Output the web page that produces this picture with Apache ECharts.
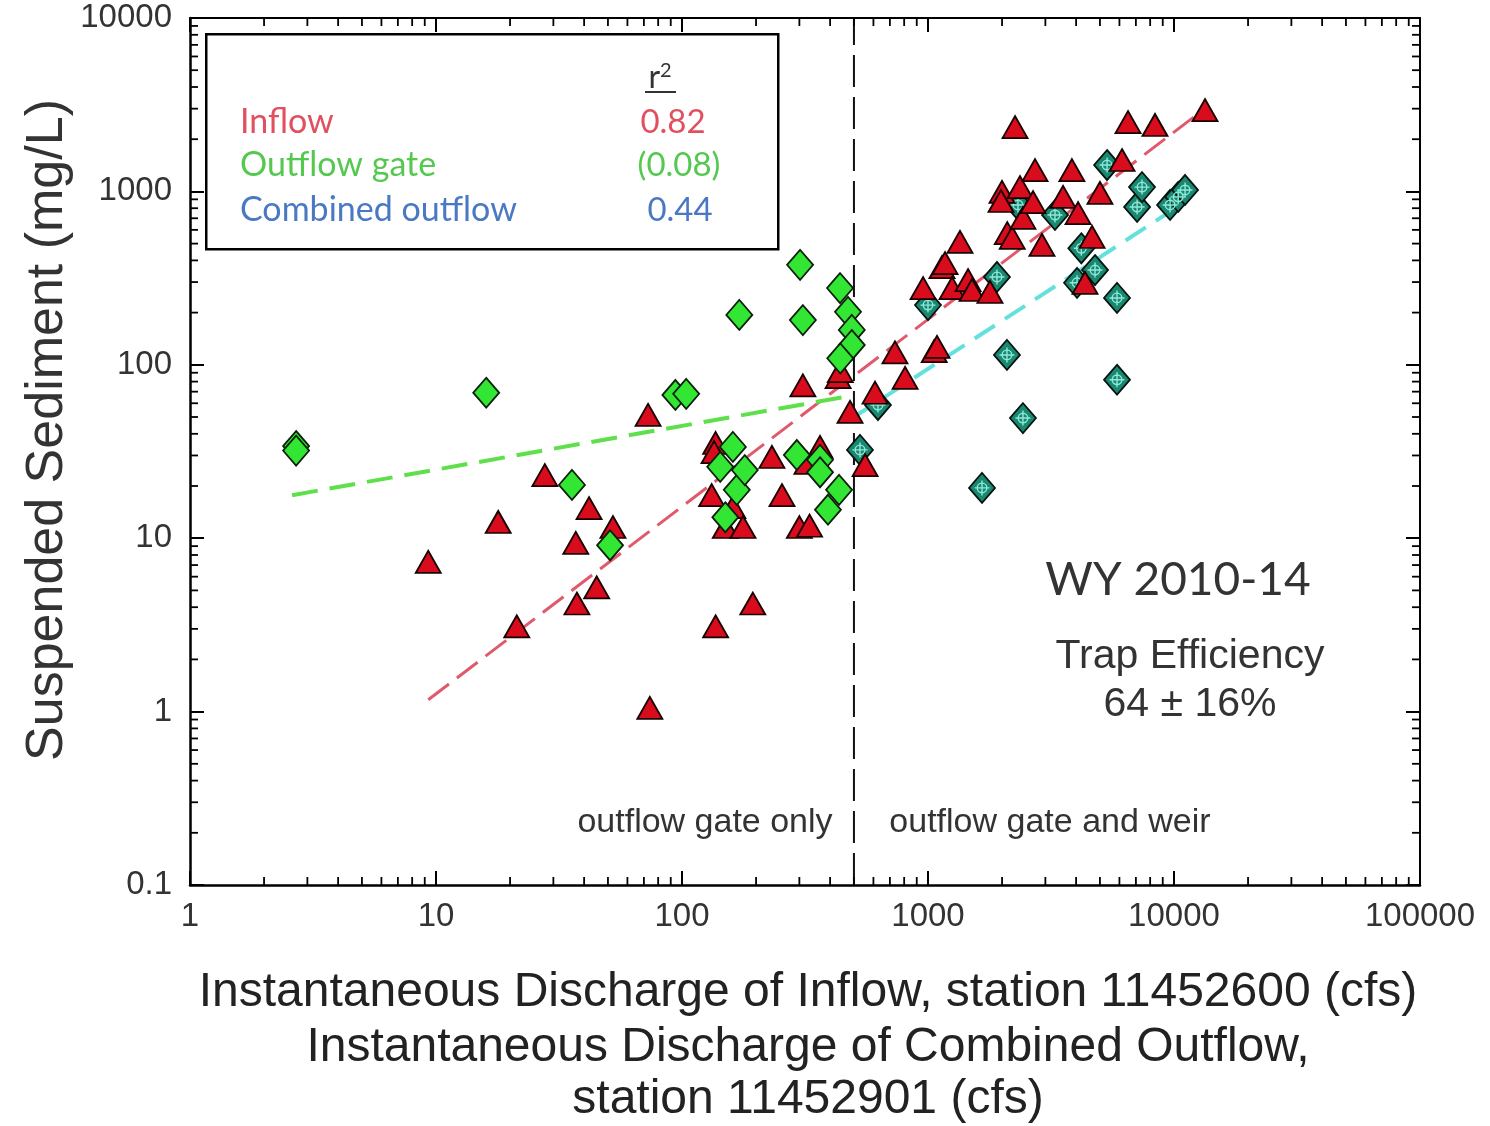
<!DOCTYPE html>
<html>
<head>
<meta charset="utf-8">
<script src="https://cdn.jsdelivr.net/npm/echarts@6/dist/echarts.min.js"></script>
<style>html,body{margin:0;padding:0;background:#fff}#c{width:1490px;height:1126px}</style>
</head>
<body>
<div id="c"></div>
<script>
// ---- data (discharge cfs, suspended sediment mg/L) ----
const inflowQ   = [9.3,17.9,21.3,27.7,37,37.4,41.9,45,52.4,72.8,74,132,137,135,137,150,161,177,194,232,255,310,300,330,322,364,431,440,482,555,609,734,807,955,1060,1088,1140,1253,1349,1455,1510,1786,1999,1980,2100,2200,2259,2366,2432,2673,2723,2906,3540,3845,4074,4645,4348,5000,6150,6503,8370,13370,1173];
const inflowSSC = [7.3,12.4,3.1,23.1,9.4,4.2,14.9,5.2,11.6,51.4,1.05,17.7,35.4,31.4,3.1,11.6,15.1,11.6,4.2,29.4,17.7,76,11.6,11.8,27.2,33.6,85,92,53.5,26.4,69,118,84,277,120,127,366,277,511,308,270,263,993,880,575,540,2350,1059,703,868,1327,491,929,1327,750,546,297,980,1517,2512,2415,2944,386];

const gateQ   = [2.7,2.7,16,35.7,51,94,104,143,150,161,167,171,180,293,302,310,364,364,392,435,439,473,490,490,440];
const gateSSC = [34,32,69,20.3,9.1,67,68,25.8,13.2,33.6,19,194,24.7,30.2,377,181,28.3,24,14.6,19,277,202,159,130,109];

const combQ   = [529,626,1000,1658,1907,2094,2321,2432,3283,4036,4200,4775,5345,5866,5866,7080,7413,9640,10400,11090];
const combSSC = [32.3,58.6,221,19.5,321,114,835,49.3,731,297,470,352,1419,243,82,813,1059,835,930,1019];

// regression lines (end points)
const inflowFitQ = [9.3, 12800],  inflowFitSSC = [1.17, 2870];
const gateFitQ   = [2.6, 480],    gateFitSSC   = [17.7, 66];
const combFitQ   = [500, 10600],  combFitSSC   = [50, 835];

// regime divider
const dividerQ = [500, 500], dividerSSC = [0.1, 10000];

// tick labels
const xTickLabels = ['1','10','100','1000','10000','100000'];
const yTickLabels = ['0.1','1','10','100','1000','10000'];
const xDecades = [1,10,100,1000,10000];
const yDecades = [0.1,1,10,100,1000];
const minorMult = [2,3,4,5,6,7,8,9];

const xMinor = [], yMinor = [];
xDecades.forEach(d => minorMult.forEach(m => xMinor.push(m*d)));
yDecades.forEach(d => minorMult.forEach(m => yMinor.push(m*d)));

const pairs = (a,b) => a.map((v,i)=>[v,b[i]]);

const chart = echarts.init(document.getElementById('c'));
const FONT = "'Liberation Sans', Arial, sans-serif";
const LATO = "Lato, sans-serif";
const axisCommon = {
  type:'log', logBase:10,
  axisLine:{show:true, onZero:false, lineStyle:{color:'#000', width:2.5}},
  axisTick:{show:true, inside:true, length:14, lineStyle:{color:'#000', width:2}},
  splitLine:{show:false}, minorTick:{show:false}, minorSplitLine:{show:false}
};

function minorTickSeries(vals, isX){
  return {
    type:'custom', coordinateSystem:'cartesian2d', silent:true, clip:false, z:5,
    data: vals.map(v => isX ? [v, 1] : [1, v]),
    renderItem(params, api){
      const cs = params.coordSys;
      const L = 8, st = {stroke:'#000', lineWidth:1.8};
      if(isX){
        const x = api.coord([api.value(0), 1])[0];
        return {type:'group', children:[
          {type:'line', shape:{x1:x,y1:cs.y+cs.height,x2:x,y2:cs.y+cs.height-L}, style:st},
          {type:'line', shape:{x1:x,y1:cs.y,x2:x,y2:cs.y+L}, style:st}
        ]};
      } else {
        const y = api.coord([1, api.value(1)])[1];
        return {type:'group', children:[
          {type:'line', shape:{x1:cs.x,y1:y,x2:cs.x+L,y2:y}, style:st},
          {type:'line', shape:{x1:cs.x+cs.width,y1:y,x2:cs.x+cs.width-L,y2:y}, style:st}
        ]};
      }
    }
  };
}

const txt = (x,y,text,size,fam,fill,align,extra) => Object.assign({type:'text', x, y, z:51,
  style:{text, fontSize:size, fontFamily:fam, fill, align:align||'center', verticalAlign:'middle'}}, extra||{});

const option = {
  backgroundColor:'#fff',
  animation:false,
  grid:{left:190, right:70, top:18, bottom:241},
  xAxis:[
    Object.assign({}, axisCommon, {min:1, max:100000, position:'bottom',
      axisLabel:{show:true, margin:15, fontSize:33, fontFamily:FONT, color:'#333',
        formatter:v=>xTickLabels[Math.round(Math.log10(v))]}}),
    Object.assign({}, axisCommon, {min:1, max:100000, position:'top',
      axisLine:{show:true,onZero:false,lineStyle:{color:'#000',width:2}}, axisLabel:{show:false}})
  ],
  yAxis:[
    Object.assign({}, axisCommon, {min:0.1, max:10000, position:'left',
      axisLabel:{show:true, margin:18, fontSize:33, fontFamily:FONT, color:'#333',
        formatter:v=>yTickLabels[Math.round(Math.log10(v))+1]}}),
    Object.assign({}, axisCommon, {min:0.1, max:10000, position:'right',
      axisLine:{show:true,onZero:false,lineStyle:{color:'#000',width:2}}, axisLabel:{show:false}})
  ],
  series:[
    minorTickSeries(xMinor, true),
    minorTickSeries(yMinor, false),
    {type:'line', data:pairs(dividerQ, dividerSSC), symbol:'none', z:2,
      lineStyle:{color:'#111', width:2, type:[32,10]}},
    {type:'line', data:pairs(inflowFitQ, inflowFitSSC), symbol:'none', z:2,
      lineStyle:{color:'#e05a6c', width:3, type:[26,10]}},
    {type:'line', data:pairs(gateFitQ, gateFitSSC), symbol:'none', z:2,
      lineStyle:{color:'#5ee04a', width:4, type:[26,12]}},
    {type:'line', data:pairs(combFitQ, combFitSSC), symbol:'none', z:2,
      lineStyle:{color:'#66e0dc', width:4, type:[24,12]}},
    {type:'scatter', name:'Combined outflow', data:pairs(combQ, combSSC), z:3,
      symbol:'diamond', symbolSize:[26,30],
      itemStyle:{color:'#1a8870', opacity:1, borderColor:'#061410', borderWidth:1.8}},
    {type:'scatter', data:pairs(combQ, combSSC), z:3, silent:true,
      symbol:'path://M0,5L10,5M5,0L5,10M8.2,5A3.2,3.2,0,1,1,1.8,5A3.2,3.2,0,1,1,8.2,5', symbolSize:15,
      itemStyle:{color:'rgba(0,0,0,0)', opacity:1, borderColor:'#8ee8d8', borderWidth:1.4}},
    {type:'scatter', name:'Inflow', data:pairs(inflowQ, inflowSSC), z:4,
      symbol:'triangle', symbolSize:[25,22],
      itemStyle:{color:'#d80c1c', opacity:1, borderColor:'#1a0000', borderWidth:1.8}},
    {type:'scatter', name:'Outflow gate', data:pairs(gateQ, gateSSC), z:4,
      symbol:'diamond', symbolSize:[26,30],
      itemStyle:{color:'#33e633', opacity:1, borderColor:'#0a200a', borderWidth:1.8}}
  ],
  graphic:[
    {type:'rect', left:205, top:33, z:50, shape:{width:572, height:215},
      style:{fill:'#fff', stroke:'#000', lineWidth:2.5}},
    {type:'text', x:660, y:78, z:51, style:{text:'r{s|2}', fontSize:32, fontFamily:LATO, fill:'#333', align:'center', verticalAlign:'middle',
      rich:{s:{fontSize:20, fontFamily:LATO, fill:'#333', verticalAlign:'top', padding:[0,0,14,0]}}}},
    {type:'line', z:51, shape:{x1:645,y1:92,x2:676,y2:92}, style:{stroke:'#333', lineWidth:2}},
    txt(240,122,'Inflow',34,LATO,'#e0505e','left'),
    txt(240,165,'Outflow gate',34,LATO,'#55c850','left'),
    txt(240,210,'Combined outflow',34,LATO,'#4a78c4','left'),
    txt(673,122,'0.82',33,LATO,'#e0505e'),
    txt(679,165,'(0.08)',33,LATO,'#55c850'),
    txt(680,210,'0.44',33,LATO,'#4a78c4'),

    txt(1178,580,'WY 2010-14',46,LATO,'#333'),
    txt(1190,657,'Trap Efficiency',41,FONT,'#333'),
    txt(1190,705,'64 ± 16%',41,FONT,'#333'),
    txt(705,823,'outflow gate only',34,FONT,'#333'),
    txt(1050,823,'outflow gate and weir',34,FONT,'#333'),

    txt(48,430,'Suspended Sediment (mg/L)',52,FONT,'#333','center',{rotation:Math.PI/2}),
    txt(808,993,'Instantaneous Discharge of Inflow, station 11452600 (cfs)',48,FONT,'#222'),
    txt(808,1048,'Instantaneous Discharge of Combined Outflow,',48,FONT,'#222'),
    txt(808,1100,'station 11452901 (cfs)',48,FONT,'#222')
  ]
};
chart.setOption(option);
</script>
</body>
</html>
